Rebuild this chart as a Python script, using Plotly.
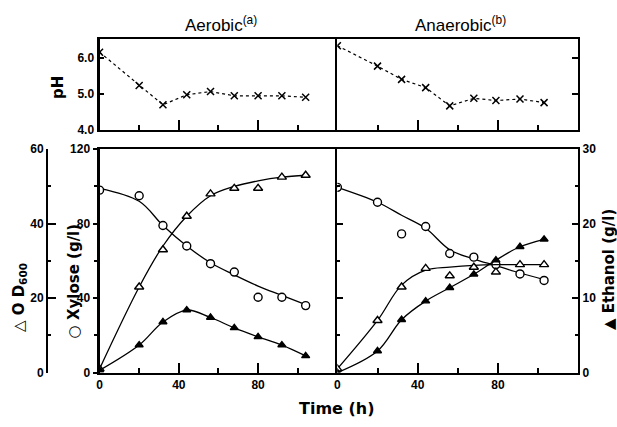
import plotly.graph_objects as go

W, H = 617, 427

# Sampling times (h)
t_aer = [0, 20, 32, 44, 56, 68, 80, 92, 104]
t_ana = [0, 20, 32, 44, 56, 68, 79, 91, 103]

# Aerobic culture
xylose_aer = [98, 95, 79, 68, 58.5, 54, 40.5, 40.5, 36]
xylose_aer_fit = [99, 92, 79, 68, 59, 52.5, 46.5, 41.5, 36.5]
od_aer = [1, 23, 33, 42, 48, 49.5, 49.5, 52.5, 53]
od_aer_fit = [1, 23, 34, 42, 47.5, 50, 51.5, 52.5, 53]
ethanol_aer = [0.3, 3.7, 6.8, 8.4, 7.4, 6.0, 4.8, 3.7, 2.25]
ph_aer = [6.17, 5.24, 4.70, 4.98, 5.07, 4.95, 4.95, 4.95, 4.91]

# Anaerobic culture
xylose_ana = [99.5, 91.5, 74.5, 78.5, 64, 62, 58, 53, 49.5]
xylose_ana_fit = [99.5, 91.5, 84.5, 77.5, 66, 61, 57.5, 53.5, 50]
od_ana = [1, 14, 23, 28, 26, 28.3, 27, 29, 29]
od_ana_fit = [1, 14, 23.5, 27.5, 28.3, 28.8, 29, 29, 29]
ethanol_ana = [0, 2.9, 7.1, 9.6, 11.4, 13.2, 15.1, 16.9, 17.9]
ph_ana = [6.35, 5.78, 5.41, 5.18, 4.67, 4.88, 4.82, 4.86, 4.76]

# Axis scales and labels
time_range = [0, 120]
time_ticks = [0, 40, 80]
time_minor = [20, 60, 100]
xylose_range = [0, 120]
od_range = [0, 60]
ethanol_range = [0, 30]
ph_range = [4.0, 6.54]
ph_ticks = [4, 5, 6]
ph_ticktext = ["4.0", "5.0", "6.0"]


def px(x):
    return x / W


def py(y):
    return 1 - y / H


BLACK = "black"
TICKFONT = dict(family="Liberation Sans, Arial, sans-serif", size=12, color=BLACK, weight="bold")
TITLEFONT = dict(family="DejaVu Sans, sans-serif", size=15, color=BLACK, weight="bold")
HEADFONT = dict(family="Liberation Sans, Arial, sans-serif", size=17, color=BLACK)

fig = go.Figure()


def curve(x, y, xa, ya, dash="solid", shape="spline", width=1.3):
    fig.add_trace(go.Scatter(
        x=x, y=y, xaxis=xa, yaxis=ya, mode="lines",
        line=dict(color=BLACK, width=width, shape=shape, dash=dash),
        hoverinfo="skip", showlegend=False))


def points(x, y, xa, ya, symbol, size, fill):
    fig.add_trace(go.Scatter(
        x=x, y=y, xaxis=xa, yaxis=ya, mode="markers",
        marker=dict(symbol=symbol, size=size, color=fill,
                    line=dict(color=BLACK, width=1.4)),
        showlegend=False))


# Aerobic panel
curve(t_aer, xylose_aer_fit, "x", "y")
curve(t_aer, od_aer_fit, "x", "y2")
curve(t_aer, ethanol_aer, "x", "y3")
points(t_aer, xylose_aer, "x", "y", "circle", 8, "white")
points(t_aer, od_aer, "x", "y2", "triangle-up", 8, "white")
points(t_aer, ethanol_aer, "x", "y3", "triangle-up", 7, BLACK)

# Anaerobic panel
curve(t_ana, xylose_ana_fit, "x2", "y4")
curve(t_ana, od_ana_fit, "x2", "y5")
curve(t_ana, ethanol_ana, "x2", "y6")
points(t_ana, xylose_ana, "x2", "y4", "circle", 8, "white")
points(t_ana, od_ana, "x2", "y5", "triangle-up", 8, "white")
points(t_ana, ethanol_ana, "x2", "y6", "triangle-up", 7, BLACK)

# pH panels
for t, ph, xa, ya in [(t_aer, ph_aer, "x3", "y7"), (t_ana, ph_ana, "x4", "y8")]:
    fig.add_trace(go.Scatter(
        x=t, y=ph, xaxis=xa, yaxis=ya, mode="lines+markers",
        line=dict(color=BLACK, width=1.2, dash="dot"),
        marker=dict(symbol="x-thin", size=7, color=BLACK,
                    line=dict(color=BLACK, width=1.5)),
        showlegend=False))

base = dict(showgrid=False, zeroline=False, linecolor=BLACK, tickcolor=BLACK,
            tickfont=TICKFONT, fixedrange=True)

left_dom = [px(97), px(336)]
right_dom = [px(336), px(578)]
main_dom = [py(378), py(147)]
ph_dom = [py(127), py(33)]


def time_axis(domain, anchor, labels):
    return dict(base, domain=domain, range=time_range, anchor=anchor,
                showline=True, linewidth=1.5, mirror=True,
                ticks="inside", tickvals=time_ticks, ticklen=10, tickwidth=1.5,
                showticklabels=labels,
                minor=dict(tickvals=time_minor, ticks="inside", ticklen=5,
                           tickwidth=1.5, tickcolor=BLACK))


fig.update_layout(
    width=W, height=H, autosize=False,
    margin=dict(l=0, r=0, t=0, b=0),
    paper_bgcolor="white", plot_bgcolor="white",
    xaxis=time_axis(left_dom, "y", True),
    xaxis2=time_axis(right_dom, "y4", True),
    xaxis3=time_axis(left_dom, "y7", False),
    xaxis4=time_axis(right_dom, "y8", False),
    yaxis=dict(base, domain=main_dom, range=xylose_range, anchor="x",
               showline=True, linewidth=3, ticks="outside", ticklen=4,
               tickwidth=1.5, tickvals=[0, 40, 80, 120],
               minor=dict(tickvals=[20, 60, 100], ticks="outside", ticklen=3,
                          tickwidth=1.5, tickcolor=BLACK)),
    yaxis2=dict(base, overlaying="y", anchor="free", position=px(44),
                side="left", range=od_range, showline=True, linewidth=1.5,
                ticks="inside", ticklen=8, tickwidth=1.5,
                tickvals=[0, 20, 40, 60],
                minor=dict(tickvals=[10, 30, 50], ticks="inside", ticklen=3,
                           tickwidth=1.5, tickcolor=BLACK)),
    yaxis3=dict(overlaying="y", anchor="x", range=ethanol_range, visible=False,
                fixedrange=True),
    yaxis4=dict(base, domain=main_dom, range=xylose_range, anchor="x2",
                showline=True, linewidth=1.5, ticks="inside", ticklen=6,
                tickwidth=1.5, tickvals=[40, 80], showticklabels=False,
                minor=dict(tickvals=[20, 60, 100], ticks="inside", ticklen=3,
                           tickwidth=1.5, tickcolor=BLACK)),
    yaxis5=dict(overlaying="y4", anchor="x2", range=od_range, visible=False,
                fixedrange=True),
    yaxis6=dict(base, overlaying="y4", anchor="x2", side="right",
                range=ethanol_range, showline=True, linewidth=2,
                ticks="inside", ticklen=6, tickwidth=1.5,
                tickvals=[0, 10, 20, 30],
                minor=dict(tickvals=[5, 15, 25], ticks="inside", ticklen=3,
                           tickwidth=1.5, tickcolor=BLACK)),
    yaxis7=dict(base, domain=ph_dom, range=ph_range, anchor="x3",
                showline=True, linewidth=3, ticks="inside", ticklen=4,
                tickwidth=1.5, tickvals=ph_ticks, ticktext=ph_ticktext),
    yaxis8=dict(base, domain=ph_dom, range=ph_range, anchor="x4", side="right",
                showline=True, linewidth=1.5, mirror=True, ticks="inside",
                ticklen=6, tickwidth=1.5, tickvals=[5, 6],
                showticklabels=False),
)

annotations = [
    dict(x=px(219), y=py(18), text="Aerobic<sup>(a)</sup>", font=HEADFONT),
    dict(x=px(460), y=py(18), text="Anaerobic<sup>(b)</sup>", font=HEADFONT),
    dict(x=px(336), y=py(415), text="Time (h)", font=dict(TITLEFONT, size=16)),
    dict(x=px(56), y=py(83), text="pH", textangle=-90, font=TITLEFONT),
    dict(x=px(16), y=py(300), text="△ O D<sub>600</sub>", textangle=-90,
         font=TITLEFONT),
    dict(x=px(71), y=py(283), text="○ Xylose (g/l)", textangle=-90,
         font=TITLEFONT),
    dict(x=px(609), y=py(272), text="▲ Ethanol (g/l)", textangle=-90,
         font=TITLEFONT),
]
for a in annotations:
    a.update(xref="paper", yref="paper", showarrow=False,
             xanchor="center", yanchor="middle")
fig.update_layout(annotations=annotations)

fig.write_html("out.html")
